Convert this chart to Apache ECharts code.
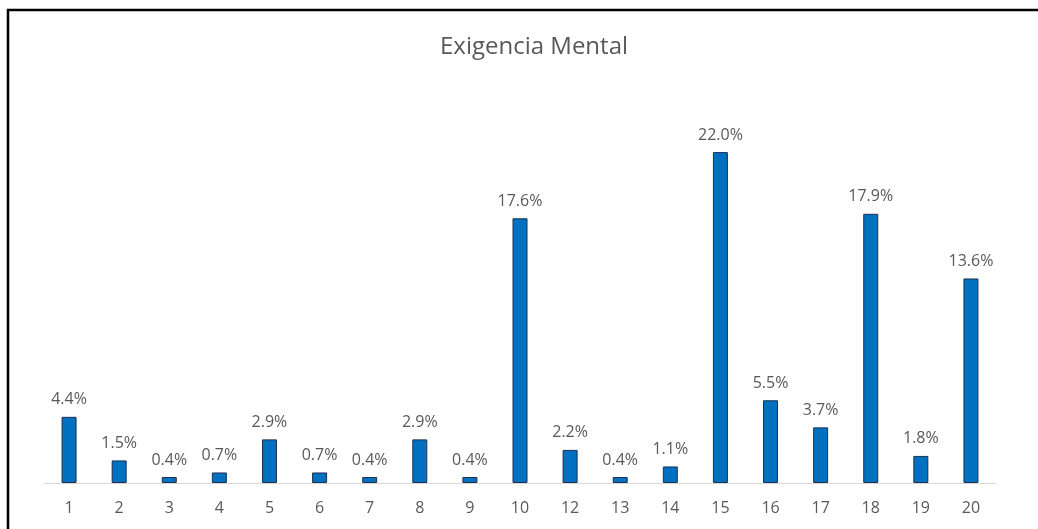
<!DOCTYPE html>
<html>
<head>
<meta charset="utf-8">
<script src="https://cdn.jsdelivr.net/npm/echarts@6/dist/echarts.min.js"></script>
<style>
html,body{margin:0;padding:0;background:#fff;}
#chart{width:1038px;height:529px;}
</style>
</head>
<body>
<div id="chart"></div>
<script>
const categories = ['1','2','3','4','5','6','7','8','9','10','12','13','14','15','16','17','18','19','20'];
const values = [4.4,1.5,0.4,0.7,2.9,0.7,0.4,2.9,0.4,17.6,2.2,0.4,1.1,22.0,5.5,3.7,17.9,1.8,13.6];
const titleText = 'Exigencia Mental';

const chart = echarts.init(document.getElementById('chart'), null, {renderer:'canvas'});
chart.setOption({
  backgroundColor:'#fff',
  animation:false,
  title:{
    text:titleText,
    left:529, top:30, textAlign:'center',
    textStyle:{fontFamily:'Open Sans', fontSize:24, fontWeight:'normal', color:'#595959'}
  },
  graphic:[{
    type:'rect', shape:{x:8, y:10, width:1060, height:560},
    style:{fill:'none', stroke:'#000', lineWidth:2.5}, silent:true
  }],
  grid:{left:44, right:42, top:107, bottom:46},
  xAxis:{
    type:'category', data:categories,
    axisLine:{lineStyle:{color:'#d9d9d9', width:1}},
    axisTick:{show:false},
    axisLabel:{color:'#595959', fontFamily:'Open Sans', fontSize:16, margin:17}
  },
  yAxis:{type:'value', min:0, max:25, show:false, splitLine:{show:false}},
  series:[{
    type:'bar', data:values, barWidth:15,
    itemStyle:{color:'#0070C0', borderColor:'#1F3050', borderWidth:1},
    label:{show:true, position:'top', distance:9, color:'#595959', fontFamily:'Open Sans', fontSize:16,
      formatter:p=>p.value.toFixed(1)+'%'}
  }]
});
</script>
</body>
</html>
